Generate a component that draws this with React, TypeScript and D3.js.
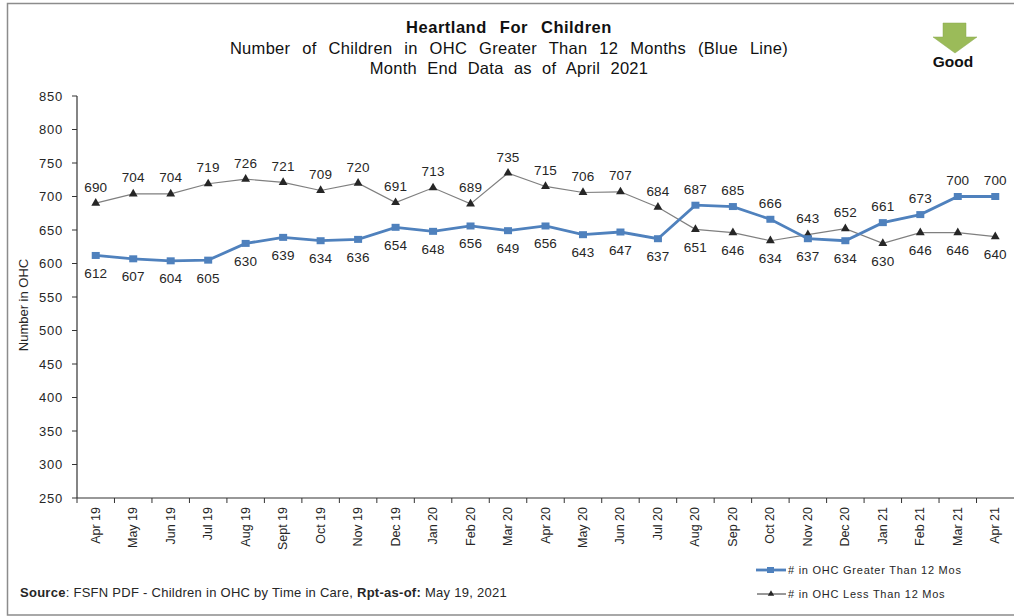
import * as d3 from "d3";

const months = [
  "Apr 19", "May 19", "Jun 19", "Jul 19", "Aug 19", "Sept 19", "Oct 19", "Nov 19", "Dec 19",
  "Jan 20", "Feb 20", "Mar 20", "Apr 20", "May 20", "Jun 20", "Jul 20", "Aug 20", "Sep 20",
  "Oct 20", "Nov 20", "Dec 20", "Jan 21", "Feb 21", "Mar 21", "Apr 21",
];
const greaterThan12 = [
  612, 607, 604, 605, 630, 639, 634, 636, 654, 648, 656, 649, 656, 643, 647, 637, 687, 685, 666,
  637, 634, 661, 673, 700, 700,
];
const lessThan12 = [
  690, 704, 704, 719, 726, 721, 709, 720, 691, 713, 689, 735, 715, 706, 707, 684, 651, 646, 634,
  643, 652, 630, 646, 646, 640,
];
const yTicks = [250, 300, 350, 400, 450, 500, 550, 600, 650, 700, 750, 800, 850];

const WIDTH = 1014;
const HEIGHT = 616;
const FONT = "'Liberation Sans', Arial, sans-serif";
const BLUE = "#4f81bd";
const INK = "#262626";

const x = d3.scaleBand<string>().domain(months).range([77, 1014]);
const y = d3.scaleLinear().domain([250, 850]).range([498, 96]);
const cx = (i: number) => (x(months[i]) ?? 0) + x.bandwidth() / 2;

const lineFor = d3
  .line<number>()
  .x((_, i) => cx(i))
  .y((d) => y(d));

const triangle = d3.symbol().type(d3.symbolTriangle).size(34)();

/* Higher series gets its label above the point, lower one below. */
const labelY = (v: number, other: number) => y(v) + (v >= other ? -16 : 18);

function Labels({ values, others }: { values: number[]; others: number[] }) {
  return (
    <g fontSize={13.5} fill={INK} textAnchor="middle" letterSpacing={0.2}>
      {values.map((v, i) => (
        <text key={months[i]} x={cx(i)} y={labelY(v, others[i])} dominantBaseline="central">
          {v}
        </text>
      ))}
    </g>
  );
}

export default function App() {
  return (
    <svg
      width={WIDTH}
      height={HEIGHT}
      viewBox={`0 0 ${WIDTH} ${HEIGHT}`}
      fontFamily={FONT}
      style={{ position: "absolute", left: 0, top: 0, background: "#fff" }}
    >
      {/* Frame */}
      <path d={`M${WIDTH} 3.5H7.5V615H${WIDTH}`} fill="none" stroke="#8c8c8c" strokeWidth={1.5} />

      {/* Title */}
      <g textAnchor="middle" fill="#111">
        <text x={509} y={33} fontSize={16.5} fontWeight={700} letterSpacing={0.5} wordSpacing={8}>
          Heartland For Children
        </text>
        <text x={509} y={54} fontSize={16.5} letterSpacing={0.3} wordSpacing={7}>
          Number of Children in OHC Greater Than 12 Months (Blue Line)
        </text>
        <text x={509} y={74} fontSize={16.5} letterSpacing={0.3} wordSpacing={5.3}>
          Month End Data as of April 2021
        </text>
      </g>

      {/* Good arrow */}
      <path d="M943 23H966V37H977L955 53L933 37H943Z" fill="#9bbb59" stroke="#8aa84e" strokeWidth={0.5} />
      <text x={953} y={67} textAnchor="middle" fontSize={15.5} fontWeight={700} fill="#111">
        Good
      </text>

      {/* Y axis */}
      <line x1={77} x2={77} y1={96} y2={498} stroke="#333" strokeWidth={1.2} />
      {yTicks.map((t) => (
        <g key={t}>
          <line x1={72} x2={77} y1={y(t)} y2={y(t)} stroke="#333" />
          <text
            x={63}
            y={y(t)}
            textAnchor="end"
            dominantBaseline="central"
            fontSize={13}
            letterSpacing={0.8}
            fill={INK}
          >
            {t}
          </text>
        </g>
      ))}
      <text
        transform="translate(23,305) rotate(-90)"
        textAnchor="middle"
        dominantBaseline="central"
        fontSize={13}
        fill={INK}
      >
        Number in OHC
      </text>

      {/* X axis */}
      <line x1={77} x2={WIDTH} y1={498} y2={498} stroke="#333" strokeWidth={1.2} />
      {months.map((m, i) => (
        <g key={m}>
          <line x1={x(m)} x2={x(m)} y1={498} y2={503} stroke="#333" />
          <text
            transform={`translate(${cx(i)},507) rotate(-90)`}
            textAnchor="end"
            dominantBaseline="central"
            fontSize={12.5}
            fill={INK}
          >
            {m}
          </text>
        </g>
      ))}

      {/* Series */}
      <path d={lineFor(lessThan12) ?? ""} fill="none" stroke="#7f7f7f" strokeWidth={1.2} />
      {lessThan12.map((v, i) => (
        <path key={months[i]} d={triangle ?? ""} transform={`translate(${cx(i)},${y(v)})`} fill="#262626" />
      ))}
      <path d={lineFor(greaterThan12) ?? ""} fill="none" stroke={BLUE} strokeWidth={2.8} />
      {greaterThan12.map((v, i) => (
        <rect key={months[i]} x={cx(i) - 4} y={y(v) - 3.5} width={8} height={7} fill={BLUE} />
      ))}

      <Labels values={lessThan12} others={greaterThan12} />
      <Labels values={greaterThan12} others={lessThan12} />

      {/* Source */}
      <text x={20} y={597} fontSize={13} fill={INK} letterSpacing={0.27}>
        <tspan fontWeight={700}>Source</tspan>: FSFN PDF - Children in OHC by Time in Care,{" "}
        <tspan fontWeight={700}>Rpt-as-of:</tspan> May 19, 2021
      </text>

      {/* Legend */}
      <g fontSize={11} fill={INK} letterSpacing={0.75}>
        <line x1={756} x2={786} y1={570} y2={570} stroke={BLUE} strokeWidth={2.8} />
        <rect x={767} y={567} width={7} height={6} fill={BLUE} />
        <text x={788} y={570} dominantBaseline="central">
          # in OHC Greater Than 12 Mos
        </text>
        <line x1={757} x2={786} y1={594} y2={594} stroke="#333" strokeWidth={1} />
        <path d={d3.symbol().type(d3.symbolTriangle).size(18)() ?? ""} transform="translate(771,594)" fill="#262626" />
        <text x={788} y={594} dominantBaseline="central">
          # in OHC Less Than 12 Mos
        </text>
      </g>
    </svg>
  );
}
